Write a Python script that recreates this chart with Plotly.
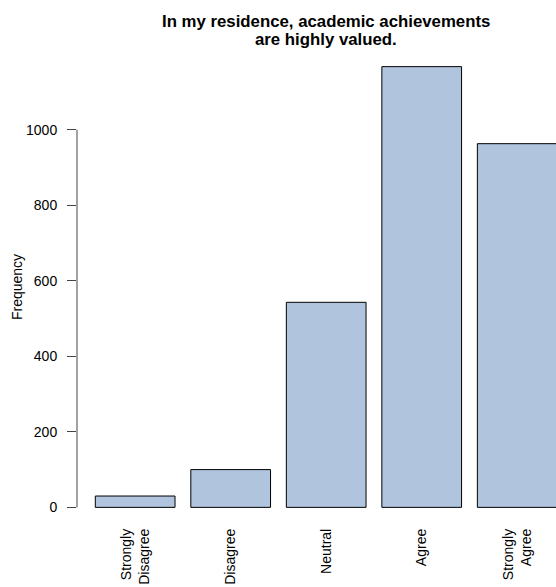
import plotly.graph_objects as go

categories = ["Strongly Disagree", "Disagree", "Neutral", "Agree", "Strongly Agree"]
tick_labels = ["Strongly<br>Disagree", "Disagree", "Neutral", "Agree", "Strongly<br>Agree"]
frequency = [30, 100, 543, 1167, 963]
y_ticks = [0, 200, 400, 600, 800, 1000]
title_lines = ["In my residence, academic achievements", "are highly valued."]

FONT = "Liberation Sans, Arial, Helvetica, sans-serif"

fig = go.Figure()
fig.add_trace(go.Bar(
    x=categories,
    y=frequency,
    marker=dict(color="#B0C4DE", line=dict(color="black", width=1)),
    showlegend=False,
    hoverinfo="skip",
))

fig.update_layout(
    width=556,
    height=587,
    margin=dict(l=77, r=0, t=49, b=62, autoexpand=False),
    paper_bgcolor="white",
    plot_bgcolor="white",
    bargap=0.1654,
    font=dict(family=FONT, size=14, color="black"),
    xaxis=dict(
        type="category",
        range=[-0.609, 4.406],
        tickmode="array",
        tickvals=categories,
        ticktext=tick_labels,
        tickangle=-90,
        ticks="",
        showline=False,
        showgrid=False,
        zeroline=False,
        tickfont=dict(family=FONT, size=14, color="black"),
        automargin=False,
    ),
    yaxis=dict(
        range=[-46.7, 1213.7],
        tickmode="array",
        tickvals=y_ticks,
        ticktext=[str(v) for v in y_ticks],
        ticks="outside",
        ticklen=9,
        tickwidth=1,
        tickcolor="#444",
        ticklabelstandoff=7,
        showline=False,
        showgrid=False,
        zeroline=False,
        tickfont=dict(family=FONT, size=14, color="black"),
        title=dict(text="Frequency", font=dict(family=FONT, size=14, color="black"), standoff=0),
        automargin=False,
    ),
)

# R-style axis line spanning only the tick range
fig.add_shape(type="line", xref="paper", yref="y", x0=0, x1=0, y0=min(y_ticks), y1=max(y_ticks),
              line=dict(color="#444", width=1))

for line_text, shift in zip(title_lines, [28, 10]):
    fig.add_annotation(
        text="<b>" + line_text + "</b>",
        xref="x", yref="paper", x=1.997, y=1.0, yshift=shift,
        xanchor="center", yanchor="middle", showarrow=False,
        font=dict(family=FONT, size=16.8, color="black"),
    )

fig.write_html(
    "out.html",
    config={"displayModeBar": False},
    post_script="document.body.style.margin='0';document.body.style.overflow='hidden';",
)
